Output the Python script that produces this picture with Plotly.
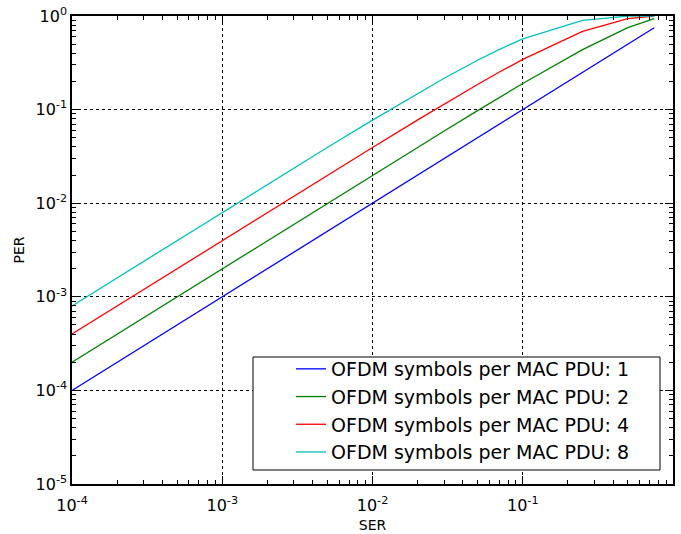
import plotly.graph_objects as go

# Symbol error rate grid
ser = [1e-4, 2e-4, 5e-4, 1e-3, 2e-3, 5e-3, 1e-2, 2e-2, 3e-2, 5e-2, 7e-2, 0.1, 0.25, 0.5, 0.75]

# Packet error rate for 1, 2, 4 and 8 OFDM symbols per MAC PDU
per_1 = [1e-4, 2e-4, 5e-4, 1e-3, 2e-3, 5e-3, 1e-2, 2e-2, 3e-2, 5e-2, 7e-2, 0.1, 0.25, 0.5, 0.75]
per_2 = [1.9999e-4, 3.9996e-4, 9.9975e-4, 1.999e-3, 3.996e-3, 9.975e-3, 0.0199, 0.0396,
         0.0591, 0.0975, 0.1351, 0.19, 0.4375, 0.75, 0.9375]
per_4 = [3.9994e-4, 7.9976e-4, 1.9985e-3, 3.994e-3, 7.976e-3, 0.01985, 0.0394, 0.07763,
         0.11471, 0.18549, 0.25195, 0.3439, 0.6836, 0.9375, 0.9961]
per_8 = [7.9972e-4, 1.5989e-3, 3.993e-3, 7.972e-3, 0.0159, 0.03931, 0.07726, 0.14924,
         0.21626, 0.33658, 0.44042, 0.56953, 0.8999, 0.9961, 0.99998]

names = ["OFDM symbols per MAC PDU: 1", "OFDM symbols per MAC PDU: 2",
         "OFDM symbols per MAC PDU: 4", "OFDM symbols per MAC PDU: 8"]
curves = [per_1, per_2, per_4, per_8]
colors = ["#0000ff", "#008000", "#ff0000", "#00bfbf"]

x_major = [1e-4, 1e-3, 1e-2, 1e-1, 1]
x_labels = ["10<sup>-4</sup>", "10<sup>-3</sup>", "10<sup>-2</sup>", "10<sup>-1</sup>", "10<sup>0</sup>"]
y_major = [1e-5, 1e-4, 1e-3, 1e-2, 1e-1, 1]
y_labels = ["10<sup>-5</sup>", "10<sup>-4</sup>", "10<sup>-3</sup>", "10<sup>-2</sup>",
            "10<sup>-1</sup>", "10<sup>0</sup>"]


def minor_vals(lo, hi):
    vals = []
    for e in range(lo, hi):
        for m in range(2, 10):
            vals.append(m * 10.0 ** e)
    return vals


fig = go.Figure()
for name, ys, color in zip(names, curves, colors):
    fig.add_trace(go.Scatter(
        x=ser, y=ys, mode="lines", name=name,
        line=dict(color=color, width=1.3),
    ))

font = "DejaVu Sans, sans-serif"
axis_common = dict(
    type="log",
    automargin=False,
    showline=True, linecolor="black", linewidth=1.5, mirror="allticks",
    ticks="inside", ticklen=8, tickcolor="black", tickwidth=1,
    showgrid=True, gridcolor="black", griddash="dot", gridwidth=1,
    zeroline=False,
    tickfont=dict(family=font, size=16, color="black"),
    title_font=dict(family=font, size=14, color="black"),
)

fig.update_xaxes(
    **axis_common,
    range=[-4, 0],
    tickvals=x_major, ticktext=x_labels,
    ticklabelstandoff=6,
    minor=dict(tickvals=minor_vals(-4, 0), ticks="inside", ticklen=4,
               tickcolor="black", showgrid=False),
    title_text="SER", title_standoff=6,
)
fig.update_yaxes(
    **axis_common,
    range=[-5, 0],
    tickvals=y_major, ticktext=y_labels,
    minor=dict(tickvals=minor_vals(-5, 0), ticks="inside", ticklen=4,
               tickcolor="black", showgrid=False),
    title_text="PER", title_standoff=8,
)

# Legend frame, drawn separately so the entries sit with a wide left inset
fig.add_shape(
    type="rect", xref="paper", yref="paper",
    x0=(253 - 72) / 601, x1=(660 - 72) / 601,
    y0=(484 - 470) / 468, y1=(484 - 357) / 468,
    line=dict(color="black", width=1), fillcolor="white", layer="above",
)

fig.update_layout(
    width=681, height=534,
    margin=dict(l=72, r=8, t=16, b=50),
    plot_bgcolor="white", paper_bgcolor="white",
    font=dict(family=font, color="black"),
    legend=dict(
        x=(291 - 72) / 601, y=(484 - 350) / 468, xanchor="left", yanchor="top",
        bgcolor="rgba(0,0,0,0)", borderwidth=0,
        font=dict(family=font, size=19, color="black"),
    ),
)

fig.write_html("out.html")
